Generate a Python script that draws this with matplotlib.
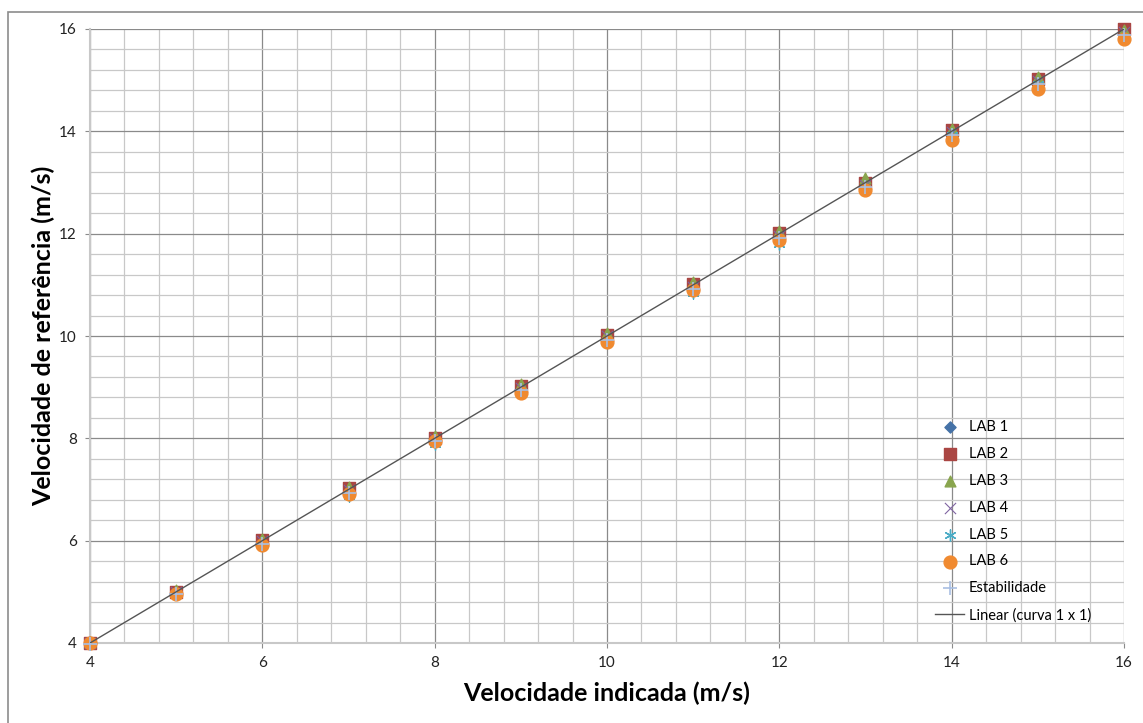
import matplotlib.pyplot as plt
from matplotlib.patches import Rectangle
from matplotlib.ticker import MultipleLocator
import numpy as np

# velocidade indicada (m/s)
x = [4, 5, 6, 7, 8, 9, 10, 11, 12, 13, 14, 15, 16]

# velocidade de referencia por laboratorio (m/s)
lab1 = [4.00, 5.00, 6.00, 7.00, 7.98, 9.00, 10.00, 10.98, 12.00, 12.98, 14.00, 15.00, 15.95]
lab2 = [4.00, 5.00, 6.02, 7.02, 8.00, 9.02, 10.02, 11.02, 12.02, 13.00, 14.02, 15.02, 16.00]
lab3 = [4.02, 5.04, 6.04, 7.05, 8.04, 9.06, 10.05, 11.05, 12.06, 13.08, 14.05, 15.07, 15.98]
lab4 = [4.00, 5.00, 6.00, 7.00, 7.98, 8.98, 10.00, 10.96, 11.95, 12.96, 13.98, 14.98, 15.95]
lab5 = [3.98, 4.96, 5.92, 6.88, 7.88, 8.92, 9.90, 10.85, 11.80, 12.90, 13.92, 14.92, 15.82]
lab6 = [4.00, 4.95, 5.92, 6.92, 7.95, 8.88, 9.88, 10.90, 11.88, 12.85, 13.83, 14.83, 15.80]
estab = [3.98, 4.96, 5.94, 6.94, 7.94, 8.94, 9.92, 10.92, 11.92, 12.92, 13.92, 14.92, 15.88]

labels = ["LAB 1", "LAB 2", "LAB 3", "LAB 4", "LAB 5", "LAB 6", "Estabilidade"]

plt.rcParams['font.family'] = ['Lato', 'DejaVu Sans']

fig = plt.figure(figsize=(11.43, 7.23), dpi=100)
ax = fig.add_axes([90 / 1143, 1 - 643 / 723, 1034 / 1143, 614 / 723])

# moldura do grafico (estilo Excel)
fig.patches.append(Rectangle((8 / 1143, -0.05), 1.1, 1 - 12 / 723 + 0.05,
                             transform=fig.transFigure, fill=False,
                             edgecolor='#8c8c8c', linewidth=1.2))

kw = dict(zorder=3, clip_on=False)
ax.scatter(x, lab1, marker='D', s=32, color='#4572a7', label=labels[0], **kw)
ax.scatter(x, lab2, marker='s', s=85, color='#aa4643', label=labels[1], **kw)
ax.scatter(x, lab3, marker='^', s=60, color='#89a54e', label=labels[2], **kw)
ax.scatter(x, lab4, marker='x', s=65, color='#8064a2', linewidths=0.8, label=labels[3], **kw)
ax.scatter(x, lab5, marker=(6, 2, 0), s=65, color='#4bacc6', linewidths=1.0, label=labels[4], **kw)
ax.scatter(x, lab6, marker='o', s=85, color='#f08a30', label=labels[5], **kw)
ax.scatter(x, estab, marker='+', s=90, color='#a9bfe3', linewidths=1.2, label=labels[6],
           zorder=4, clip_on=False)

# linha de tendencia 1 x 1
xl = np.array([x[0], x[-1]])
ax.plot(xl, xl, color='#555555', linewidth=1.0, label="Linear (curva 1 x 1)", zorder=4)

ax.set_xlim(4, 16)
ax.set_ylim(4, 16)
ax.xaxis.set_major_locator(MultipleLocator(2))
ax.yaxis.set_major_locator(MultipleLocator(2))
ax.xaxis.set_minor_locator(MultipleLocator(0.4))
ax.yaxis.set_minor_locator(MultipleLocator(0.4))
ax.grid(which='major', color='#8a8a8a', linewidth=0.9)
ax.grid(which='minor', color='#c8c8c8', linewidth=0.9)
ax.set_axisbelow(True)

for s in ['top', 'right']:
    ax.spines[s].set_visible(False)
for s in ['left', 'bottom']:
    ax.spines[s].set_color('#c8c8c8')
    ax.spines[s].set_linewidth(1.5)

ax.tick_params(which='major', direction='out', length=3.6, color='#8a8a8a',
               labelsize=11, labelcolor='#222222', pad=6)
ax.tick_params(which='minor', length=0)

ax.set_xlabel("Velocidade indicada (m/s)", fontsize=18, fontweight='bold', labelpad=8)
ax.set_ylabel("Velocidade de referência (m/s)", fontsize=18, fontweight='bold', labelpad=3)

leg = ax.legend(loc='upper left', bbox_to_anchor=(838 / 1034, 1 - 384 / 614),
                frameon=False, fontsize=10.5, labelspacing=0.88, handlelength=2.0,
                handletextpad=0.3, borderpad=0)

fig.savefig("out.png", dpi=100)
